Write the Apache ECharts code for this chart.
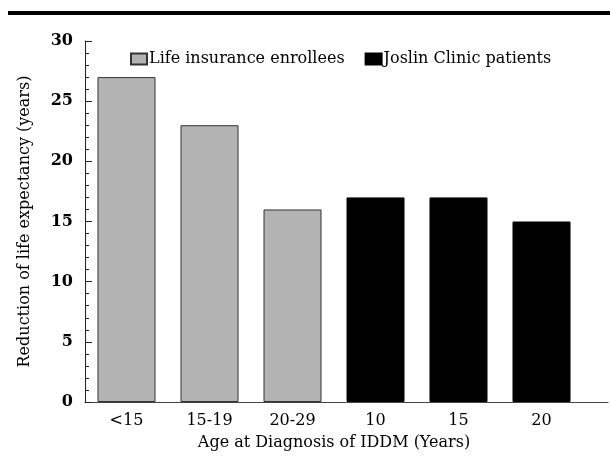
<!DOCTYPE html>
<html>
<head>
<meta charset="utf-8">
<script src="https://cdn.jsdelivr.net/npm/echarts@6/dist/echarts.min.js"></script>
<style>html,body{margin:0;padding:0;background:#fff}#c{width:610px;height:457px}</style>
</head>
<body>
<div id="c"></div>
<script>
const categories = ['<15', '15-19', '20-29', '10', '15', '20'];
const lifeInsurance = [27, 23, 16, '-', '-', '-'];
const joslinClinic = ['-', '-', '-', 17, 17, 15];
const seriesNames = ['Life insurance enrollees', 'Joslin Clinic patients'];
const yTitle = 'Reduction of life expectancy (years)';
const xTitle = 'Age at Diagnosis of IDDM (Years)';

const FONT = 'DejaVu Serif';
const chart = echarts.init(document.getElementById('c'), null, {renderer: 'canvas'});
chart.setOption({
  animation: false,
  backgroundColor: '#fff',
  graphic: [{
    type: 'rect', left: 8, top: 11, shape: {width: 602, height: 4},
    style: {fill: '#000'}
  }],
  legend: {
    left: 130, top: 51, padding: 0,
    itemWidth: 16, itemHeight: 11, itemGap: 20,
    icon: 'rect',
    textStyle: {fontFamily: FONT, fontSize: 16, color: '#000', padding: [0, 0, 0, -3]},
    data: seriesNames
  },
  grid: [
    {left: 85, top: 41, bottom: 55, width: 498},
    {left: 85, top: 41, bottom: 55, right: 2}
  ],
  xAxis: [{
    type: 'category', data: categories, gridIndex: 0,
    axisLine: {show: false},
    axisTick: {show: false},
    axisLabel: {fontFamily: FONT, fontSize: 16, color: '#000', margin: 11},
    name: xTitle, nameLocation: 'middle', nameGap: 33,
    nameTextStyle: {fontFamily: FONT, fontSize: 16, color: '#000'}
  }, {
    type: 'value', gridIndex: 1, min: 0, max: 1,
    axisLine: {show: true, lineStyle: {color: '#444', width: 1}},
    axisTick: {show: false}, axisLabel: {show: false}, splitLine: {show: false}
  }],
  yAxis: [{
    type: 'value', gridIndex: 0, min: 0, max: 30, interval: 5,
    axisLine: {show: true, lineStyle: {color: '#222', width: 1}},
    axisTick: {show: true, inside: true, length: 7, lineStyle: {color: '#222'}},
    minorTick: {show: true, splitNumber: 5, length: 4, lineStyle: {color: '#222'}},
    splitLine: {show: false},
    axisLabel: {fontFamily: FONT, fontSize: 16, fontWeight: 'bold', color: '#000', margin: 12},
    name: yTitle, nameLocation: 'middle', nameGap: 52, nameRotate: 90,
    nameTextStyle: {fontFamily: FONT, fontSize: 16, color: '#000'}
  }, {
    type: 'value', gridIndex: 1, show: false, min: 0, max: 1
  }],
  series: [{
    name: seriesNames[0], type: 'bar', stack: 'a', data: lifeInsurance,
    barWidth: 58,
    itemStyle: {color: '#b3b3b3', borderColor: '#333', borderWidth: 1}
  }, {
    name: seriesNames[1], type: 'bar', stack: 'a', data: joslinClinic,
    barWidth: 58,
    itemStyle: {color: '#000', borderColor: '#000', borderWidth: 1}
  }]
});
</script>
</body>
</html>
